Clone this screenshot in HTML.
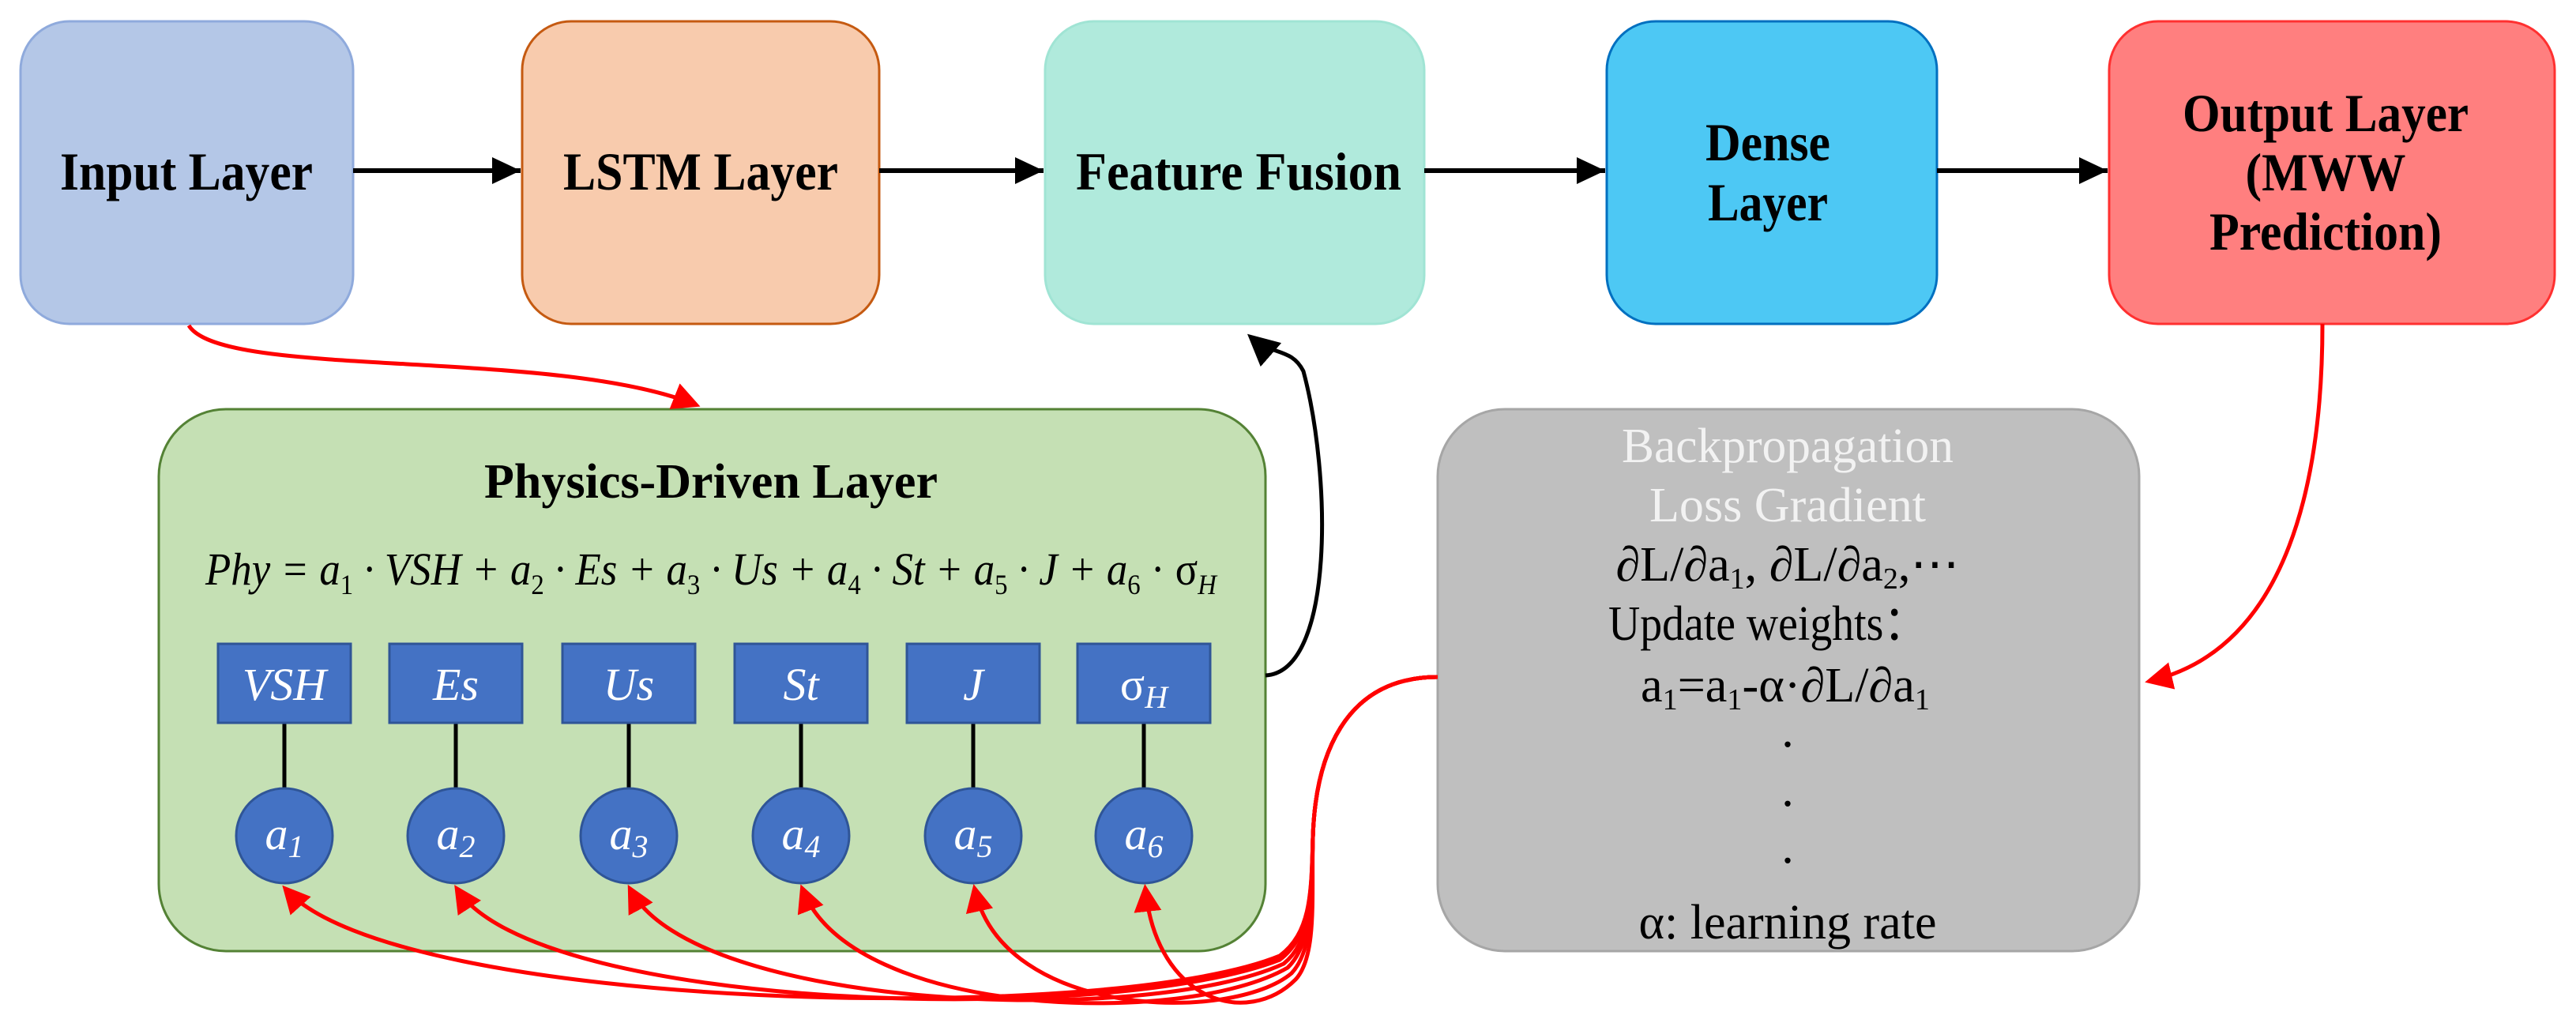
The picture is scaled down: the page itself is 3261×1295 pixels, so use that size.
<!DOCTYPE html>
<html><head><meta charset="utf-8"><style>html,body{margin:0;padding:0;background:#fff}svg{display:block}</style></head>
<body>
<svg width="3261" height="1295" viewBox="0 0 3261 1295" xmlns="http://www.w3.org/2000/svg" font-family="'Liberation Serif', serif">
<defs>
<marker id="ab" markerWidth="36" markerHeight="34" refX="10" refY="5" orient="auto" markerUnits="userSpaceOnUse" viewBox="0 0 10 10" preserveAspectRatio="none"><path d="M0,0 L10,5 L0,10 z" fill="#000"/></marker>
<marker id="ar" markerWidth="7" markerHeight="7" refX="8" refY="5" orient="auto" viewBox="0 0 10 10" markerUnits="strokeWidth"><path d="M0,0 L10,5 L0,10 z" fill="#f00"/></marker>
<marker id="abk" markerWidth="8" markerHeight="8" refX="8" refY="5" orient="auto" viewBox="0 0 10 10" markerUnits="strokeWidth"><path d="M0,0 L10,5 L0,10 z" fill="#000"/></marker>
</defs>
<rect x="26" y="27" width="421" height="383" rx="62" fill="#b4c7e7" stroke="#8faadc" stroke-width="3"/>
<rect x="661" y="27" width="452" height="383" rx="62" fill="#f8cbad" stroke="#c55a11" stroke-width="3"/>
<rect x="1323" y="27" width="480" height="383" rx="62" fill="#b0eadc" stroke="#a0e4d4" stroke-width="3"/>
<rect x="2034" y="27" width="418" height="383" rx="62" fill="#4dc8f4" stroke="#0070c0" stroke-width="3"/>
<rect x="2670" y="27" width="564" height="383" rx="62" fill="#ff7f7f" stroke="#ff3030" stroke-width="3"/>
<g font-weight="bold" font-size="68" text-anchor="middle" fill="#000">
<text x="236" y="240" textLength="320" lengthAdjust="spacingAndGlyphs">Input Layer</text>
<text x="887" y="240" textLength="348" lengthAdjust="spacingAndGlyphs">LSTM Layer</text>
<text x="1568" y="240" textLength="412" lengthAdjust="spacingAndGlyphs">Feature Fusion</text>
<text x="2238" y="203" textLength="158" lengthAdjust="spacingAndGlyphs">Dense</text>
<text x="2238" y="279" textLength="152" lengthAdjust="spacingAndGlyphs">Layer</text>
<text x="2944" y="166" textLength="362" lengthAdjust="spacingAndGlyphs">Output Layer</text>
<text x="2944" y="241" textLength="203" lengthAdjust="spacingAndGlyphs">(MWW</text>
<text x="2944" y="316" textLength="294" lengthAdjust="spacingAndGlyphs">Prediction)</text>
</g>
<g stroke="#000" stroke-width="6" fill="none">
<line x1="447" y1="216" x2="659" y2="216" marker-end="url(#ab)"/>
<line x1="1113" y1="216" x2="1321" y2="216" marker-end="url(#ab)"/>
<line x1="1803" y1="216" x2="2032" y2="216" marker-end="url(#ab)"/>
<line x1="2452" y1="216" x2="2668" y2="216" marker-end="url(#ab)"/>
</g>
<rect x="201" y="518" width="1401" height="686" rx="85" fill="#c5e0b4" stroke="#548235" stroke-width="3"/>
<text x="900" y="630" font-weight="bold" font-size="62" text-anchor="middle" textLength="574" lengthAdjust="spacingAndGlyphs">Physics-Driven Layer</text>
<text x="260" y="740" font-style="italic" font-size="58" textLength="1280" lengthAdjust="spacingAndGlyphs">Phy = a<tspan font-style="normal" font-size="36" dy="12">1</tspan><tspan dy="-12"> · VSH + a</tspan><tspan font-style="normal" font-size="36" dy="12">2</tspan><tspan dy="-12"> · Es + a</tspan><tspan font-style="normal" font-size="36" dy="12">3</tspan><tspan dy="-12"> · Us + a</tspan><tspan font-style="normal" font-size="36" dy="12">4</tspan><tspan dy="-12"> · St + a</tspan><tspan font-style="normal" font-size="36" dy="12">5</tspan><tspan dy="-12"> · J + a</tspan><tspan font-style="normal" font-size="36" dy="12">6</tspan><tspan dy="-12" font-style="normal"> · σ</tspan><tspan font-size="36" dy="12">H</tspan></text>
<g stroke="#000" stroke-width="5">
<line x1="360" y1="915" x2="360" y2="998"/><line x1="577" y1="915" x2="577" y2="998"/><line x1="796" y1="915" x2="796" y2="998"/><line x1="1014" y1="915" x2="1014" y2="998"/><line x1="1232" y1="915" x2="1232" y2="998"/><line x1="1448" y1="915" x2="1448" y2="998"/>
</g>
<g fill="#4472c4" stroke="#2f5597" stroke-width="3">
<rect x="276" y="815" width="168" height="100"/><rect x="493" y="815" width="168" height="100"/><rect x="712" y="815" width="168" height="100"/><rect x="930" y="815" width="168" height="100"/><rect x="1148" y="815" width="168" height="100"/><rect x="1364" y="815" width="168" height="100"/>
<ellipse cx="360" cy="1058" rx="61" ry="60"/><ellipse cx="577" cy="1058" rx="61" ry="60"/><ellipse cx="796" cy="1058" rx="61" ry="60"/><ellipse cx="1014" cy="1058" rx="61" ry="60"/><ellipse cx="1232" cy="1058" rx="61" ry="60"/><ellipse cx="1448" cy="1058" rx="61" ry="60"/>
</g>
<g fill="#fff" font-style="italic" font-size="58" text-anchor="middle">
<text x="360" y="886">VSH</text><text x="577" y="886">Es</text><text x="796" y="886">Us</text><text x="1014" y="886">St</text><text x="1232" y="886">J</text><text x="1448" y="886"><tspan font-style="normal">σ</tspan><tspan font-size="40" dy="10">H</tspan></text>
<text x="360" y="1075">a<tspan font-size="40" dy="10">1</tspan></text><text x="577" y="1075">a<tspan font-size="40" dy="10">2</tspan></text><text x="796" y="1075">a<tspan font-size="40" dy="10">3</tspan></text><text x="1014" y="1075">a<tspan font-size="40" dy="10">4</tspan></text><text x="1232" y="1075">a<tspan font-size="40" dy="10">5</tspan></text><text x="1448" y="1075">a<tspan font-size="40" dy="10">6</tspan></text>
</g>
<rect x="1820" y="518" width="888" height="686" rx="85" fill="#bfbfbf" stroke="#a6a6a6" stroke-width="3"/>
<g font-size="62" text-anchor="middle" fill="#000">
<text x="2263" y="585" fill="#f2f2f2" textLength="420" lengthAdjust="spacingAndGlyphs">Backpropagation</text>
<text x="2263" y="660" fill="#f2f2f2" textLength="350" lengthAdjust="spacingAndGlyphs">Loss Gradient</text>
<text x="2263" y="735" textLength="435" lengthAdjust="spacingAndGlyphs">∂L/∂a<tspan font-size="38" dy="10">1</tspan><tspan dy="-10">, ∂L/∂a</tspan><tspan font-size="38" dy="10">2</tspan><tspan dy="-10">,⋯</tspan></text>
<text x="2238" y="810" textLength="404" lengthAdjust="spacingAndGlyphs">Update weights：</text>
<text x="2260" y="888" textLength="366" lengthAdjust="spacingAndGlyphs">a<tspan font-size="38" dy="10">1</tspan><tspan dy="-10">=a</tspan><tspan font-size="38" dy="10">1</tspan><tspan dy="-10">-α·∂L/∂a</tspan><tspan font-size="38" dy="10">1</tspan></text>
<text x="2263" y="945">.</text><text x="2263" y="1020">.</text><text x="2263" y="1092">.</text>
<text x="2263" y="1188" textLength="377" lengthAdjust="spacingAndGlyphs">α: learning rate</text>
</g>
<path d="M1602,855 C1690,850 1685,600 1650,470 C1635,440 1610,450 1585,428" fill="none" stroke="#000" stroke-width="5" marker-end="url(#abk)"/>
<g fill="none" stroke="#f00" stroke-width="5">
<path d="M239,412 C280,480 700,440 880,512" marker-end="url(#ar)"/>
<path d="M2940,410 C2940,600 2900,820 2722,862" marker-end="url(#ar)"/>
<path d="M1820,857 C1700,857 1665,960 1662,1060 C1660,1130 1660,1180 1620,1210 C1400,1300 500,1280 362,1126" marker-end="url(#ar)"/>
<path d="M1820,857 C1700,857 1665,960 1662,1060 C1660,1130 1660,1185 1620,1215 C1400,1300 680,1280 579,1126" marker-end="url(#ar)"/>
<path d="M1820,857 C1700,857 1665,960 1662,1060 C1660,1130 1662,1190 1625,1220 C1450,1300 880,1280 798,1126" marker-end="url(#ar)"/>
<path d="M1820,857 C1700,857 1665,960 1662,1060 C1660,1130 1662,1195 1630,1225 C1500,1300 1080,1290 1016,1126" marker-end="url(#ar)"/>
<path d="M1820,857 C1700,857 1665,960 1662,1060 C1660,1130 1665,1200 1635,1232 C1560,1295 1270,1290 1234,1126" marker-end="url(#ar)"/>
<path d="M1820,857 C1700,857 1665,960 1662,1060 C1660,1130 1668,1210 1640,1240 C1580,1300 1465,1270 1450,1126" marker-end="url(#ar)"/>
</g>
</svg>
</body></html>
